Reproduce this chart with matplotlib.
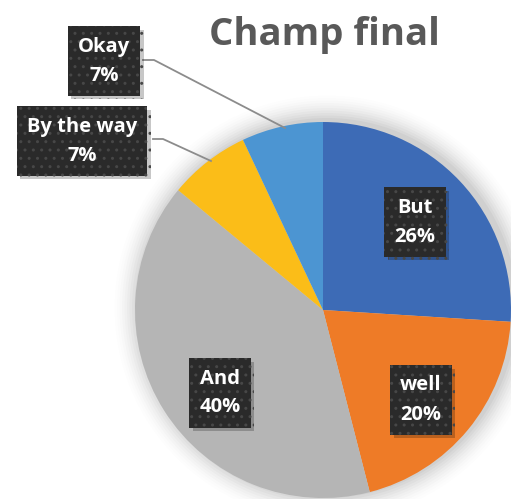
import matplotlib
matplotlib.use("Agg")
import matplotlib.pyplot as plt
import matplotlib.patheffects as pe
from matplotlib.patches import Circle
import numpy as np

labels = ["But", "well", "And", "By the way", "Okay"]
values = [26, 20, 40, 7, 7]
colors = ["#3D6BB6", "#EE7B27", "#B5B5B5", "#FBBD18", "#4C95D2"]
title = "Champ final"

plt.rcParams['font.family'] = ['Open Sans', 'DejaVu Sans']
plt.rcParams['hatch.color'] = '#474747'
plt.rcParams['hatch.linewidth'] = 1.0

W, H = 511, 499
fig = plt.figure(figsize=(W / 100, H / 100), dpi=100)
ax = fig.add_axes([0, 0, 1, 1])

def Y(y):
    return H - y

cx, cy, r = 323, 310, 188

# soft shadow
for i, a in enumerate(np.linspace(0.05, 0.012, 10)):
    ax.add_patch(Circle((cx + 4, Y(cy) + 2), r + 2 + i * 2.5, color='black', alpha=a * 0.6, lw=0, zorder=0))

wedges, _ = ax.pie(values, colors=colors, startangle=90, counterclock=False,
                   center=(cx, Y(cy)), radius=r, frame=True,
                   wedgeprops=dict(linewidth=0))
ax.set_xlim(0, W)
ax.set_ylim(0, H)
ax.set_aspect('equal')
ax.axis('off')

def lab(x, y, s):
    t = ax.text(x, Y(y), s, ha='center', va='center', fontsize=14.5, fontweight='bold',
                color='white', linespacing=1.6, zorder=5,
                bbox=dict(boxstyle='square,pad=0.5', facecolor='#2a2a2a', edgecolor='#474747',
                          linewidth=0, hatch='..'))
    t.get_bbox_patch().set_path_effects([
        pe.SimplePatchShadow(offset=(2.5, -2.5), shadow_rgbFace='black', alpha=0.22),
        pe.Normal()])

pos = {"But": (415, 222), "well": (421, 400), "And": (220, 393),
       "By the way": (82, 141), "Okay": (104, 61)}
for l, v in zip(labels, values):
    x, y = pos[l]
    lab(x, y, f"{l}\n{v}%")

ax.plot([143, 154, 285], [Y(60), Y(60), Y(128)], color='#8c8c8c', lw=1.3, zorder=3)
ax.plot([153, 163, 211], [Y(139), Y(139), Y(161)], color='#8c8c8c', lw=1.3, zorder=3)

ax.text(324, Y(45), title, ha='center', va='baseline', fontsize=27.5, fontweight='bold', color='#595959')

fig.savefig("out.png", dpi=100)
